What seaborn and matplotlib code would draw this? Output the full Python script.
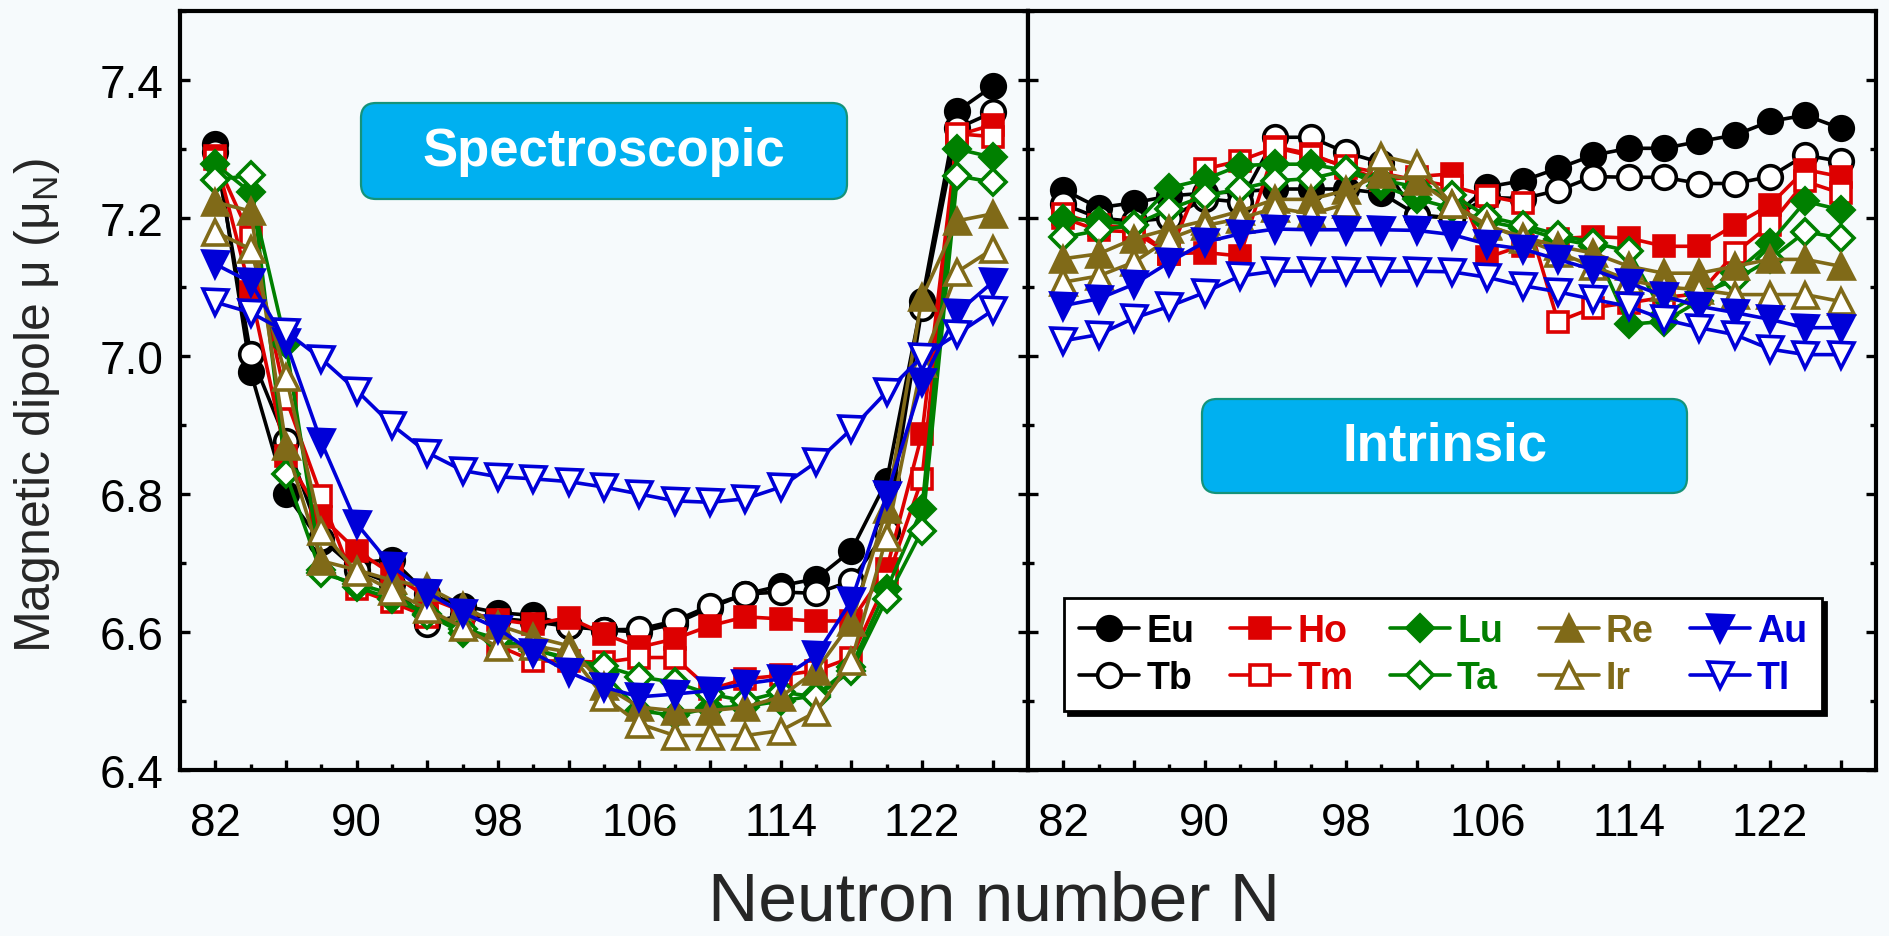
import matplotlib
matplotlib.use('Agg')
import matplotlib.pyplot as plt
import seaborn as sns
from matplotlib.patches import FancyBboxPatch
from matplotlib.ticker import FixedLocator, FuncFormatter, MultipleLocator

# ---------------- data ----------------
N = list(range(82, 127, 2))
elements = ['Eu', 'Tb', 'Ho', 'Tm', 'Lu', 'Ta', 'Re', 'Ir', 'Au', 'Tl']

spec_Eu = [7.307, 6.977, 6.800, 6.730, 6.700, 6.705, 6.655, 6.638, 6.628, 6.624, 6.609, 6.603, 6.600, 6.612, 6.635, 6.655, 6.667, 6.677, 6.718, 6.819, 7.080, 7.355, 7.391]
spec_Tb = [7.295, 7.003, 6.877, 6.735, 6.690, 6.670, 6.612, 6.625, 6.620, 6.615, 6.608, 6.603, 6.604, 6.616, 6.638, 6.655, 6.658, 6.656, 6.674, 6.747, 7.070, 7.330, 7.353]
spec_Ho = [7.290, 7.093, 6.855, 6.767, 6.718, 6.684, 6.650, 6.630, 6.618, 6.611, 6.621, 6.597, 6.578, 6.590, 6.609, 6.622, 6.619, 6.616, 6.616, 6.691, 6.887, 7.320, 7.335]
spec_Tm = [7.285, 7.172, 6.938, 6.797, 6.662, 6.643, 6.622, 6.608, 6.580, 6.558, 6.558, 6.556, 6.563, 6.563, 6.517, 6.532, 6.537, 6.544, 6.563, 6.674, 6.822, 7.322, 7.318]
spec_Lu = [7.278, 7.237, 7.017, 6.690, 6.665, 6.648, 6.626, 6.598, 6.588, 6.575, 6.562, 6.540, 6.486, 6.479, 6.490, 6.492, 6.500, 6.508, 6.550, 6.662, 6.778, 7.300, 7.288]
spec_Ta = [7.255, 7.262, 6.829, 6.685, 6.670, 6.655, 6.625, 6.605, 6.590, 6.575, 6.560, 6.551, 6.535, 6.527, 6.510, 6.500, 6.513, 6.506, 6.544, 6.648, 6.747, 7.261, 7.252]
spec_Re = [7.223, 7.210, 6.870, 6.703, 6.690, 6.675, 6.665, 6.638, 6.610, 6.593, 6.580, 6.522, 6.491, 6.486, 6.486, 6.491, 6.506, 6.544, 6.614, 6.778, 7.085, 7.196, 7.206]
spec_Ir = [7.180, 7.155, 6.970, 6.747, 6.687, 6.660, 6.633, 6.607, 6.578, 6.580, 6.571, 6.506, 6.467, 6.450, 6.450, 6.450, 6.457, 6.484, 6.558, 6.738, 6.990, 7.122, 7.155]
spec_Au = [7.133, 7.107, 7.020, 6.875, 6.757, 6.695, 6.657, 6.628, 6.605, 6.570, 6.542, 6.520, 6.506, 6.510, 6.515, 6.525, 6.532, 6.566, 6.645, 6.798, 6.962, 7.063, 7.107]
spec_Tl = [7.078, 7.063, 7.035, 6.996, 6.950, 6.900, 6.860, 6.834, 6.825, 6.822, 6.818, 6.810, 6.800, 6.790, 6.788, 6.793, 6.810, 6.846, 6.894, 6.948, 6.999, 7.032, 7.066]

intr_Eu = [7.241, 7.215, 7.222, 7.232, 7.236, 7.238, 7.242, 7.242, 7.242, 7.236, 7.205, 7.200, 7.245, 7.254, 7.272, 7.291, 7.301, 7.301, 7.311, 7.320, 7.340, 7.349, 7.330]
intr_Tb = [7.220, 7.200, 7.195, 7.200, 7.228, 7.223, 7.317, 7.317, 7.295, 7.280, 7.203, 7.200, 7.230, 7.228, 7.240, 7.260, 7.259, 7.259, 7.250, 7.250, 7.260, 7.291, 7.282]
intr_Ho = [7.200, 7.182, 7.180, 7.148, 7.150, 7.145, 7.303, 7.293, 7.273, 7.255, 7.260, 7.264, 7.143, 7.160, 7.170, 7.173, 7.171, 7.159, 7.159, 7.190, 7.219, 7.270, 7.260]
intr_Tm = [7.206, 7.190, 7.185, 7.148, 7.271, 7.283, 7.302, 7.290, 7.275, 7.265, 7.255, 7.246, 7.232, 7.222, 7.050, 7.070, 7.077, 7.085, 7.090, 7.149, 7.190, 7.253, 7.236]
intr_Lu = [7.199, 7.196, 7.190, 7.244, 7.256, 7.276, 7.278, 7.278, 7.269, 7.247, 7.228, 7.214, 7.195, 7.185, 7.170, 7.160, 7.046, 7.050, 7.080, 7.120, 7.164, 7.224, 7.212]
intr_Ta = [7.172, 7.182, 7.190, 7.213, 7.232, 7.242, 7.254, 7.257, 7.269, 7.255, 7.245, 7.234, 7.202, 7.190, 7.176, 7.164, 7.152, 7.060, 7.090, 7.110, 7.140, 7.180, 7.171]
intr_Re = [7.141, 7.148, 7.170, 7.184, 7.196, 7.210, 7.227, 7.227, 7.240, 7.264, 7.254, 7.220, 7.188, 7.173, 7.159, 7.149, 7.130, 7.120, 7.120, 7.130, 7.140, 7.140, 7.130]
intr_Ir = [7.107, 7.116, 7.136, 7.170, 7.189, 7.199, 7.215, 7.206, 7.220, 7.290, 7.278, 7.220, 7.190, 7.170, 7.150, 7.130, 7.110, 7.100, 7.096, 7.089, 7.089, 7.089, 7.079]
intr_Au = [7.073, 7.083, 7.104, 7.136, 7.165, 7.177, 7.184, 7.183, 7.183, 7.183, 7.182, 7.176, 7.162, 7.155, 7.140, 7.125, 7.106, 7.087, 7.072, 7.063, 7.053, 7.041, 7.041]
intr_Tl = [7.022, 7.031, 7.055, 7.072, 7.092, 7.116, 7.123, 7.123, 7.123, 7.123, 7.123, 7.122, 7.114, 7.102, 7.093, 7.082, 7.072, 7.053, 7.041, 7.031, 7.010, 7.002, 7.002]

x_tick_labels = ['82', '90', '98', '106', '114', '122']
y_ticks = [6.4, 6.6, 6.8, 7.0, 7.2, 7.4]

spec = {'Eu': spec_Eu, 'Tb': spec_Tb, 'Ho': spec_Ho, 'Tm': spec_Tm, 'Lu': spec_Lu,
        'Ta': spec_Ta, 'Re': spec_Re, 'Ir': spec_Ir, 'Au': spec_Au, 'Tl': spec_Tl}
intr = {'Eu': intr_Eu, 'Tb': intr_Tb, 'Ho': intr_Ho, 'Tm': intr_Tm, 'Lu': intr_Lu,
        'Ta': intr_Ta, 'Re': intr_Re, 'Ir': intr_Ir, 'Au': intr_Au, 'Tl': intr_Tl}

# ---------------- styles ----------------
BLACK, RED, GREEN, OLIVE, BLUE = '#000000', '#dd0000', '#008000', '#806a18', '#0000d8'
style = {
    'Eu': ('o', BLACK, True, 17), 'Tb': ('o', BLACK, False, 17),
    'Ho': ('s', RED, True, 15), 'Tm': ('s', RED, False, 15),
    'Lu': ('D', GREEN, True, 13), 'Ta': ('D', GREEN, False, 13),
    'Re': ('^', OLIVE, True, 18), 'Ir': ('^', OLIVE, False, 18),
    'Au': ('v', BLUE, True, 18), 'Tl': ('v', BLUE, False, 18),
}
BG = '#f6fafc'

sns.set_style('ticks')
plt.rcParams['font.family'] = ['Liberation Sans', 'DejaVu Sans']
plt.rcParams['mathtext.fontset'] = 'custom'
plt.rcParams['mathtext.rm'] = 'Liberation Sans'

W, H = 1889, 937
fig = plt.figure(figsize=(W / 100, H / 100), dpi=100, facecolor=BG)
ax1 = fig.add_axes([180 / W, 1 - 771 / H, 848 / W, 759 / H])
ax2 = fig.add_axes([1028 / W, 1 - 771 / H, 848 / W, 759 / H])

for ax, data in ((ax1, spec), (ax2, intr)):
    ax.set_facecolor(BG)
    for el in elements:
        m, c, filled, ms = style[el]
        sns.lineplot(x=N, y=data[el], ax=ax, color=c, marker=m, markersize=ms,
                     markerfacecolor=c if filled else 'white', markeredgecolor=c,
                     markeredgewidth=2.6, linewidth=2.6, label=el, legend=False,
                     estimator=None, sort=False)
    ax.set_xlim(80, 128)
    ax.set_ylim(6.4, 7.5)
    ax.xaxis.set_major_locator(FixedLocator(list(range(82, 127, 4))))
    ax.xaxis.set_minor_locator(FixedLocator(list(range(84, 127, 4))))
    ax.xaxis.set_major_formatter(FuncFormatter(
        lambda v, p: str(int(round(v))) if str(int(round(v))) in x_tick_labels else ''))
    ax.yaxis.set_major_locator(FixedLocator(y_ticks))
    ax.yaxis.set_minor_locator(MultipleLocator(0.1))
    ax.yaxis.set_major_formatter(FuncFormatter(lambda v, p: f'{v:.1f}'))
    ax.tick_params(which='both', direction='in', left=True, right=True, top=False, bottom=True,
                   width=2.4, colors='black')
    ax.tick_params(which='major', length=7.5)
    ax.tick_params(which='minor', length=4)
    ax.tick_params(axis='x', which='major', labelsize=33, pad=22)
    ax.tick_params(axis='y', which='major', labelsize=33, pad=12)
    for sp in ax.spines.values():
        sp.set_linewidth(3)
        sp.set_color('black')
    ax.set_xlabel('')
    ax.set_ylabel('')

ax2.tick_params(axis='y', labelleft=False)

fig.text(994 / W, 2 / H, 'Neutron number N', fontsize=50, ha='center', va='bottom')
fig.text(37 / W, 1 - 406 / H, r'Magnetic dipole μ (μ$_{\mathregular{N}}$)', fontsize=36,
         rotation=90, ha='center', va='center')

# label boxes (inches)
def label_box(x0, y0top, x1, y1bot, text):
    r = 0.15
    xl, xr = x0 / 100, x1 / 100
    yb, yt = (H - y1bot) / 100, (H - y0top) / 100
    box = FancyBboxPatch((xl + r, yb + r), xr - xl - 2 * r, yt - yb - 2 * r,
                         boxstyle=f'round,pad={r},rounding_size={r}',
                         transform=fig.dpi_scale_trans, facecolor='#00b0f0',
                         edgecolor='#15937a', linewidth=1.6, zorder=5)
    fig.add_artist(box)
    fig.text((xl + xr) / 2, (yb + yt) / 2, text, transform=fig.dpi_scale_trans,
             color='white', fontsize=38, fontweight='bold', ha='center', va='center', zorder=6)

label_box(361, 104, 847, 200, 'Spectroscopic')
label_box(1202, 400, 1687, 494, 'Intrinsic')

handles, labels = ax1.get_legend_handles_labels()
leg = ax2.legend(handles, labels, ncol=5, loc='upper left',
                 bbox_to_anchor=(1064 / W, 1 - 599 / H), bbox_transform=fig.transFigure,
                 borderaxespad=0, frameon=True, fancybox=False,
                 shadow={'facecolor': 'black', 'edgecolor': 'black', 'alpha': 1, 'ox': 3, 'oy': -3},
                 prop={'size': 27, 'weight': 'bold'}, labelcolor='linecolor',
                 handlelength=1.6, handletextpad=0.2, columnspacing=0.95,
                 labelspacing=0.3, borderpad=0.4)
leg.get_frame().set_edgecolor('black')
leg.get_frame().set_linewidth(2)
leg.get_frame().set_facecolor('white')
leg.get_frame().set_alpha(1)

fig.savefig('out.png', dpi=100, facecolor=BG)
